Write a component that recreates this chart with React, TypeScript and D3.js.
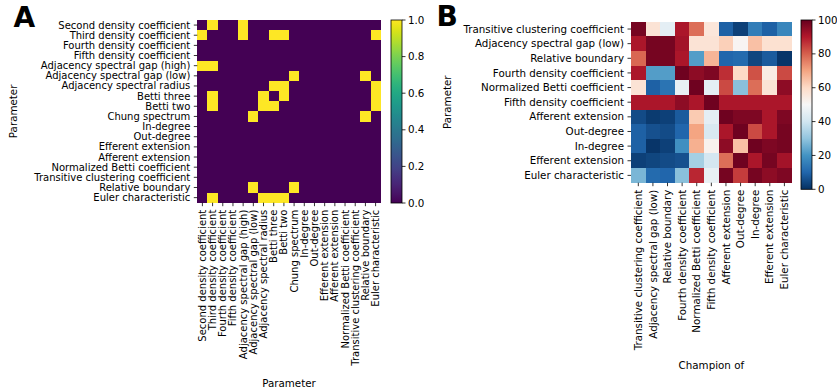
import React from "react";
import * as d3 from "d3";

const A_LABELS = [
  "Second density coefficient",
  "Third density coefficient",
  "Fourth density coefficient",
  "Fifth density coefficient",
  "Adjacency spectral gap (high)",
  "Adjacency spectral gap (low)",
  "Adjacency spectral radius",
  "Betti three",
  "Betti two",
  "Chung spectrum",
  "In-degree",
  "Out-degree",
  "Efferent extension",
  "Afferent extension",
  "Normalized Betti coefficient",
  "Transitive clustering coefficient",
  "Relative boundary",
  "Euler characteristic",
];

const A_MATRIX = [
  [0,1,0,0,1,0,0,0,0,0,0,0,0,0,0,0,0,0],
  [1,0,0,0,1,0,0,1,1,0,0,0,0,0,0,0,0,1],
  [0,0,0,0,0,0,0,0,0,0,0,0,0,0,0,0,0,0],
  [0,0,0,0,0,0,0,0,0,0,0,0,0,0,0,0,0,0],
  [1,1,0,0,0,0,0,0,0,0,0,0,0,0,0,0,0,0],
  [0,0,0,0,0,0,0,0,0,1,0,0,0,0,0,0,1,0],
  [0,0,0,0,0,0,0,1,1,0,0,0,0,0,0,0,0,1],
  [0,1,0,0,0,0,1,0,1,0,0,0,0,0,0,0,0,1],
  [0,1,0,0,0,0,1,1,0,0,0,0,0,0,0,0,0,1],
  [0,0,0,0,0,1,0,0,0,0,0,0,0,0,0,0,1,0],
  [0,0,0,0,0,0,0,0,0,0,0,0,0,0,0,0,0,0],
  [0,0,0,0,0,0,0,0,0,0,0,0,0,0,0,0,0,0],
  [0,0,0,0,0,0,0,0,0,0,0,0,0,0,0,0,0,0],
  [0,0,0,0,0,0,0,0,0,0,0,0,0,0,0,0,0,0],
  [0,0,0,0,0,0,0,0,0,0,0,0,0,0,0,0,0,0],
  [0,0,0,0,0,0,0,0,0,0,0,0,0,0,0,0,0,0],
  [0,0,0,0,0,1,0,0,0,1,0,0,0,0,0,0,0,0],
  [0,1,0,0,0,0,1,1,1,0,0,0,0,0,0,0,0,0],
];

const A_TICKS = [0, 0.2, 0.4, 0.6, 0.8, 1.0];

const B_LABELS = [
  "Transitive clustering coefficient",
  "Adjacency spectral gap (low)",
  "Relative boundary",
  "Fourth density coefficient",
  "Normalized Betti coefficient",
  "Fifth density coefficient",
  "Afferent extension",
  "Out-degree",
  "In-degree",
  "Efferent extension",
  "Euler characteristic",
];

const B_MATRIX = [
  [98, 57, 45, 91, 78, 56, 9, 3, 15, 9, 17],
  [91, 98, 98, 92, 57, 57, 62, 51, 65, 58, 58],
  [79, 98, 98, 91, 22, 67, 10, 11, 4, 8, 1],
  [91, 22, 22, 99, 95, 97, 87, 60, 82, 54, 83],
  [57, 9, 13, 46, 99, 45, 83, 29, 78, 57, 95],
  [91, 91, 91, 95, 91, 99, 91, 91, 91, 91, 91],
  [5, 2, 3, 8, 63, 45, 99, 97, 97, 91, 97],
  [9, 6, 5, 10, 70, 42, 91, 99, 83, 91, 98],
  [9, 1, 3, 19, 68, 52, 95, 65, 99, 97, 98],
  [3, 4, 5, 6, 33, 41, 78, 99, 91, 98, 92],
  [27, 11, 10, 29, 88, 46, 98, 85, 98, 95, 97],
];

const B_TICKS = [0, 20, 40, 60, 80, 100];

const RDBU = ["#67001f","#b2182b","#d6604d","#f4a582","#fddbc7","#f7f7f7","#d1e5f0","#92c5de","#4393c3","#2166ac","#053061"].slice().reverse();

const FONT = "DejaVu Sans, sans-serif";
const FS = 10;

export default function App() {
  // Panel A geometry
  const aL = 197.3, aR = 380.7, aT = 20, aB = 202.7;
  const ax = d3.scaleBand<number>().domain(d3.range(18)).range([aL, aR]);
  const ay = d3.scaleBand<number>().domain(d3.range(18)).range([aT, aB]);
  const viridis = d3.scaleSequential(d3.interpolateViridis).domain([0, 1]);
  const acbL = 391, acbR = 402, acbT = 20, acbB = 203;
  const acbY = d3.scaleLinear().domain([0, 1]).range([acbB, acbT]);

  // Panel B geometry
  const bL = 631, bR = 791.7, bT = 21.7, bB = 182.7;
  const bx = d3.scaleBand<number>().domain(d3.range(11)).range([bL, bR]);
  const by = d3.scaleBand<number>().domain(d3.range(11)).range([bT, bB]);
  const rdbu = d3
    .scaleLinear<string>()
    .domain(d3.range(11).map((i) => i * 10))
    .range(RDBU)
    .interpolate(d3.interpolateRgb)
    .clamp(true);
  const bcbL = 801, bcbR = 812, bcbT = 20, bcbB = 189.3;
  const bcbY = d3.scaleLinear().domain([0, 100]).range([bcbB, bcbT]);

  const gradStops = d3.range(0, 1.0001, 0.02);

  return (
    <svg
      width={837}
      height={392}
      style={{ position: "absolute", left: 0, top: 0, background: "#fff" }}
      fontFamily={FONT}
    >
      <defs>
        <linearGradient id="gA" x1="0" y1="1" x2="0" y2="0">
          {gradStops.map((t) => (
            <stop key={t} offset={t} stopColor={viridis(t)} />
          ))}
        </linearGradient>
        <linearGradient id="gB" x1="0" y1="1" x2="0" y2="0">
          {gradStops.map((t) => (
            <stop key={t} offset={t} stopColor={rdbu(t * 100)} />
          ))}
        </linearGradient>
      </defs>

      {/* Panel letters */}
      <text x={13.5} y={27} fontSize={28} fontWeight="bold">A</text>
      <text x={436.5} y={26} fontSize={28} fontWeight="bold">B</text>

      {/* Panel A heatmap */}
      <g shapeRendering="crispEdges">
        {A_MATRIX.map((row, i) =>
          row.map((v, j) => (
            <rect
              key={`a${i}-${j}`}
              x={ax(j)}
              y={ay(i)}
              width={ax.bandwidth() + 0.3}
              height={ay.bandwidth() + 0.3}
              fill={viridis(v)}
            />
          ))
        )}
      </g>
      {A_LABELS.map((lab, i) => {
        const cy = (ay(i) as number) + ay.bandwidth() / 2;
        return (
          <g key={`ay${i}`}>
            <line x1={aL - 3.5} x2={aL} y1={cy} y2={cy} stroke="#000" strokeWidth={0.8} />
            <text x={aL - 7} y={cy} dy="0.35em" textAnchor="end" fontSize={FS}>
              {lab}
            </text>
          </g>
        );
      })}
      {A_LABELS.map((lab, j) => {
        const cx = (ax(j) as number) + ax.bandwidth() / 2;
        return (
          <g key={`ax${j}`}>
            <line x1={cx} x2={cx} y1={aB} y2={aB + 3.5} stroke="#000" strokeWidth={0.8} />
            <text
              transform={`translate(${cx},${aB + 7}) rotate(-90)`}
              dy="0.35em"
              textAnchor="end"
              fontSize={FS}
            >
              {lab}
            </text>
          </g>
        );
      })}
      <text x={(aL + aR) / 2} y={387} textAnchor="middle" fontSize={10.3}>Parameter</text>
      <text
        transform={`translate(17,${(aT + aB) / 2}) rotate(-90)`}
        textAnchor="middle"
        fontSize={10.3}
      >
        Parameter
      </text>

      {/* Colorbar A */}
      <rect x={acbL} y={acbT} width={acbR - acbL} height={acbB - acbT} fill="url(#gA)" />
      <rect x={acbL} y={acbT} width={acbR - acbL} height={acbB - acbT} fill="none" stroke="#000" strokeWidth={0.8} />
      {A_TICKS.map((t) => (
        <g key={`act${t}`}>
          <line x1={acbR} x2={acbR + 3.5} y1={acbY(t)} y2={acbY(t)} stroke="#000" strokeWidth={0.8} />
          <text x={acbR + 6} y={acbY(t)} dy="0.35em" fontSize={10.3}>
            {d3.format(".1f")(t)}
          </text>
        </g>
      ))}

      {/* Panel B heatmap */}
      <g shapeRendering="crispEdges">
        {B_MATRIX.map((row, i) =>
          row.map((v, j) => (
            <rect
              key={`b${i}-${j}`}
              x={bx(j)}
              y={by(i)}
              width={bx.bandwidth() + 0.3}
              height={by.bandwidth() + 0.3}
              fill={rdbu(v)}
            />
          ))
        )}
      </g>
      {B_LABELS.map((lab, i) => {
        const cy = (by(i) as number) + by.bandwidth() / 2;
        return (
          <g key={`by${i}`}>
            <line x1={bL - 3.5} x2={bL} y1={cy} y2={cy} stroke="#000" strokeWidth={0.8} />
            <text x={bL - 7} y={cy} dy="0.35em" textAnchor="end" fontSize={10.3}>
              {lab}
            </text>
          </g>
        );
      })}
      {B_LABELS.map((lab, j) => {
        const cx = (bx(j) as number) + bx.bandwidth() / 2;
        return (
          <g key={`bx${j}`}>
            <line x1={cx} x2={cx} y1={bB} y2={bB + 3.5} stroke="#000" strokeWidth={0.8} />
            <text
              transform={`translate(${cx},${bB + 7}) rotate(-90)`}
              dy="0.35em"
              textAnchor="end"
              fontSize={10.3}
            >
              {lab}
            </text>
          </g>
        );
      })}
      <text x={(bL + bR) / 2} y={369} textAnchor="middle" fontSize={10.3}>Champion of</text>
      <text
        transform={`translate(451,${(bT + bB) / 2}) rotate(-90)`}
        textAnchor="middle"
        fontSize={10.3}
      >
        Parameter
      </text>

      {/* Colorbar B */}
      <rect x={bcbL} y={bcbT} width={bcbR - bcbL} height={bcbB - bcbT} fill="url(#gB)" />
      <rect x={bcbL} y={bcbT} width={bcbR - bcbL} height={bcbB - bcbT} fill="none" stroke="#000" strokeWidth={0.8} />
      {B_TICKS.map((t) => (
        <g key={`bct${t}`}>
          <line x1={bcbR} x2={bcbR + 3.5} y1={bcbY(t)} y2={bcbY(t)} stroke="#000" strokeWidth={0.8} />
          <text x={bcbR + 6} y={bcbY(t)} dy="0.35em" fontSize={10.3}>
            {t}
          </text>
        </g>
      ))}
    </svg>
  );
}
